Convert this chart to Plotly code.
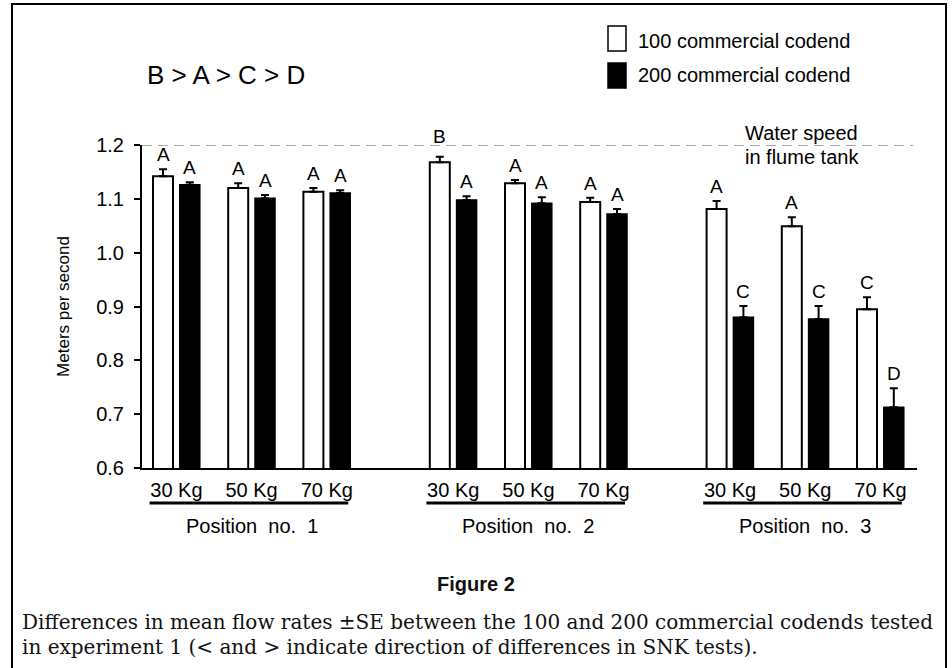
import plotly.graph_objects as go

# ---------------- data ----------------
positions = ["Position  no.  1", "Position  no.  2", "Position  no.  3"]
weights = ["30 Kg", "50 Kg", "70 Kg"]
series_names = ["100 commercial codend", "200 commercial codend"]

# mean flow (m/s), per position, per weight
mean_100 = [[1.142, 1.120, 1.113], [1.168, 1.129, 1.094], [1.081, 1.049, 0.895]]
se_100 = [[0.013, 0.009, 0.007], [0.010, 0.006, 0.008], [0.015, 0.017, 0.022]]
mean_200 = [[1.126, 1.101, 1.111], [1.098, 1.092, 1.072], [0.880, 0.877, 0.713]]
se_200 = [[0.005, 0.006, 0.005], [0.007, 0.011, 0.009], [0.021, 0.024, 0.035]]
snk_100 = [["A", "A", "A"], ["B", "A", "A"], ["A", "A", "C"]]
snk_200 = [["A", "A", "A"], ["A", "A", "A"], ["C", "C", "D"]]

water_speed = 1.2
y_ticks = [0.6, 0.7, 0.8, 0.9, 1.0, 1.1, 1.2]

# ---------------- layout constants ----------------
PAIR = 26.8    # offset between the two codends
WSTEP = 75.2   # offset between weights
PSTEP = 276.8  # offset between positions
BARW = 20
SANS = "Liberation Sans, Arial, Helvetica, sans-serif"
SERIF = "DejaVu Serif, Georgia, serif"

L, R, T, B = 142, 35, 145, 200
W, H = 952, 668
PW, PH = W - L - R, H - T - B


def px(xp):
    return (xp - L) / PW


def py(yp):
    return (H - B - yp) / PH


def xpos(p, w, s):
    return p * PSTEP + w * WSTEP + s * PAIR


x100, y100, e100, l100 = [], [], [], []
x200, y200, e200, l200 = [], [], [], []
for p in range(len(positions)):
    for w in range(len(weights)):
        x100.append(xpos(p, w, 0)); y100.append(mean_100[p][w]); e100.append(se_100[p][w]); l100.append(snk_100[p][w])
        x200.append(xpos(p, w, 1)); y200.append(mean_200[p][w]); e200.append(se_200[p][w]); l200.append(snk_200[p][w])

fig = go.Figure()
fig.add_trace(go.Bar(
    x=x100, y=y100, width=BARW, name=series_names[0],
    marker=dict(color="white", line=dict(color="black", width=2)),
    error_y=dict(type="data", symmetric=False, array=e100, arrayminus=[0] * len(e100),
                 color="black", thickness=2, width=4),
    showlegend=False,
))
fig.add_trace(go.Bar(
    x=x200, y=y200, width=BARW, name=series_names[1],
    marker=dict(color="black", line=dict(color="black", width=1.5)),
    error_y=dict(type="data", symmetric=False, array=e200, arrayminus=[0] * len(e200),
                 color="black", thickness=2, width=4),
    showlegend=False,
))

annotations = []


def note(x, y, text, size, family=SANS, xanchor="center", yanchor="middle", xref="paper", yref="paper",
         yshift=0, color="black"):
    annotations.append(dict(x=x, y=y, xref=xref, yref=yref, text=text, showarrow=False,
                            xanchor=xanchor, yanchor=yanchor, yshift=yshift,
                            font=dict(family=family, size=size, color=color)))


# SNK letters (lifted above the dashed line when the bar reaches it)
for xs, ys, es, ls in [(x100, y100, e100, l100), (x200, y200, e200, l200)]:
    for x, y, e, lab in zip(xs, ys, es, ls):
        top = y + e
        shift = 2 if top < water_speed - 0.03 else 8
        note(x, top, lab, 19, xref="x", yref="y", yanchor="bottom", yshift=shift)

# x tick centres (pair centres)
tickvals, ticktext = [], []
for p in range(len(positions)):
    for w in range(len(weights)):
        tickvals.append(xpos(p, w, 0.5))
        ticktext.append(weights[w])

shapes = []
# water speed dashed line
shapes.append(dict(type="line", xref="paper", yref="y", x0=0, x1=0.995, y0=water_speed, y1=water_speed,
                   line=dict(color="#8a8a8a", width=1.5, dash="10px,6px")))
# position underlines + labels
for p, name in enumerate(positions):
    x0 = xpos(p, 0, 0) - 0.5 * PAIR
    x1 = xpos(p, len(weights) - 1, 1) + 0.3 * PAIR
    shapes.append(dict(type="line", xref="x", yref="paper", x0=x0, x1=x1, y0=py(503), y1=py(503),
                       line=dict(color="black", width=3)))
    xc = (xpos(p, 0, 0) + xpos(p, len(weights) - 1, 1)) / 2
    note(xc, py(526), name, 20, xref="x")

# legend (manual)
shapes.append(dict(type="rect", xref="paper", yref="paper", x0=px(608), x1=px(626), y0=py(51), y1=py(26),
                   fillcolor="white", line=dict(color="black", width=1.5)))
shapes.append(dict(type="rect", xref="paper", yref="paper", x0=px(608), x1=px(626), y0=py(88), y1=py(63),
                   fillcolor="black", line=dict(color="black", width=1.5)))
note(px(636), py(41), series_names[0], 20, xanchor="left")
note(px(636), py(75), series_names[1], 20, xanchor="left")

# overall ranking
note(px(226), py(75), "B > A > C > D", 26)
# water speed label
note(px(743), py(133), "Water speed", 20, xanchor="left")
note(px(743), py(157), "in flume tank", 20, xanchor="left")

# figure caption
note(px(476), py(584), "<b>Figure 2</b>", 20, color="#111")
note(px(20), py(622),
     "Differences in mean flow rates \u00b1SE between the 100 and 200 commercial codends tested",
     20, family=SERIF, xanchor="left", color="#111")
note(px(20), py(647),
     "in experiment 1 (< and > indicate direction of differences in SNK tests).",
     20, family=SERIF, xanchor="left", color="#111")

# outer frame
shapes.append(dict(type="rect", xref="paper", yref="paper", x0=px(12), x1=px(946), y0=py(700), y1=py(4),
                   line=dict(color="black", width=2), fillcolor="rgba(0,0,0,0)", layer="below"))

fig.update_layout(
    width=W, height=H,
    margin=dict(l=L, r=R, t=T, b=B),
    paper_bgcolor="white", plot_bgcolor="white",
    barmode="overlay",
    annotations=annotations, shapes=shapes,
    font=dict(family=SANS, color="black"),
)
fig.update_xaxes(range=[-(163 - L), (W - R) - 163], showgrid=False, zeroline=False,
                 showline=True, linecolor="black", linewidth=2,
                 tickvals=tickvals, ticktext=ticktext, ticks="", ticklabelstandoff=3,
                 tickfont=dict(family=SANS, size=20, color="black"))
fig.update_yaxes(range=[0.6, 1.2], showgrid=False, zeroline=False,
                 showline=True, linecolor="black", linewidth=2,
                 tickvals=y_ticks, tickformat=".1f", ticks="outside", ticklen=6, tickwidth=2,
                 tickcolor="black", ticklabelstandoff=6,
                 tickfont=dict(family=SANS, size=20, color="black"),
                 title=dict(text="Meters per second", standoff=22,
                            font=dict(family=SANS, size=17, color="black")))

fig.write_html("out.html", config={"displayModeBar": False},
               post_script="document.body.style.margin='0';document.body.style.overflow='hidden';")
